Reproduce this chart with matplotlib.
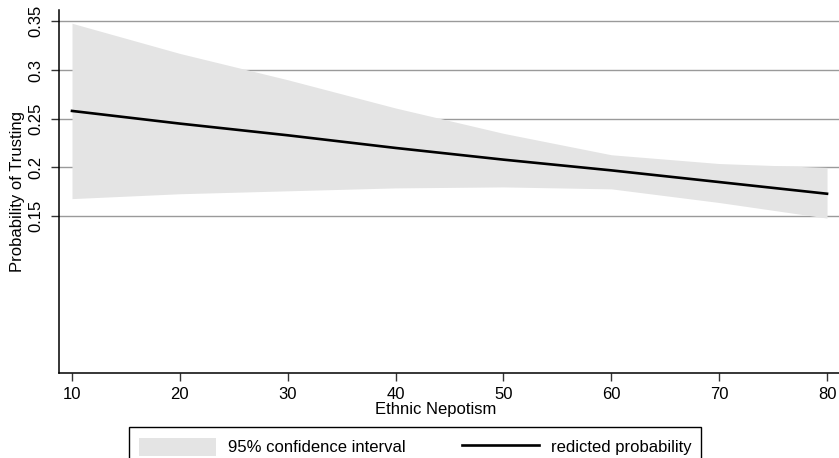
import numpy as np
import matplotlib
matplotlib.use("Agg")
import matplotlib.pyplot as plt
import matplotlib.patches as mpatches
from matplotlib.legend_handler import HandlerPatch

plt.rcParams['font.family'] = ['Liberation Sans', 'DejaVu Sans']

# values
nepotism = [10, 20, 30, 40, 50, 60, 70, 80]
predicted = [0.258, 0.245, 0.233, 0.220, 0.208, 0.197, 0.185, 0.173]
ci_upper = [0.348, 0.317, 0.290, 0.261, 0.235, 0.213, 0.204, 0.200]
ci_lower = [0.168, 0.173, 0.176, 0.179, 0.180, 0.178, 0.164, 0.148]
xticks = [10, 20, 30, 40, 50, 60, 70, 80]
yticks = [0.15, 0.2, 0.25, 0.3, 0.35]
yticklabels = ["0.15", "0.2", "0.25", "0.3", "0.35"]

fig = plt.figure(figsize=(8.39, 4.58), dpi=100)
ax = fig.add_axes([59/839, 1 - 373/458, 780/839, 363/458])

ax.fill_between(nepotism, ci_lower, ci_upper, color="#e4e4e4", lw=0, zorder=2)
line, = ax.plot(nepotism, predicted, color="black", lw=1.9,
                label="redicted probability", zorder=3)

ax.set_xlim(8.795, 81.11)
ax.set_ylim(-0.011, 0.3616)
ax.set_xticks(xticks)
ax.set_yticks(yticks)
ax.set_yticklabels(yticklabels, rotation=90, va="center")
ax.tick_params(axis="both", direction="out", length=6, width=1,
               labelsize=12, color="#333333")
ax.tick_params(axis="y", pad=5)
ax.tick_params(axis="x", pad=4)

ax.grid(axis="y", color="#9a9a9a", lw=1.0, zorder=1)
ax.set_axisbelow(True)
for s in ["top", "right"]:
    ax.spines[s].set_visible(False)
for s in ["left", "bottom"]:
    ax.spines[s].set_linewidth(1.1)

ax.set_xlabel("Ethnic Nepotism", fontsize=12)
ax.xaxis.set_label_coords(0.4827, -0.08)
ax.set_ylabel("Probability of Trusting", fontsize=12)
ax.yaxis.set_label_coords(-0.043, 0.5)


# shorter swatch than the legend row, so the box runs off the bottom edge
def short_patch(legend, orig_handle, xdescent, ydescent, width, height, fontsize):
    h = 13.0
    return mpatches.Rectangle((-xdescent, -ydescent + (height - h) / 2), width, h)


ci_patch = mpatches.Patch(facecolor="#e4e4e4", edgecolor="none",
                          label="95% confidence interval")
leg = ax.legend(handles=[ci_patch, line],
                loc="upper left", bbox_to_anchor=(129/839, 1 - 427/458),
                bbox_transform=fig.transFigure, ncol=2, fontsize=12,
                frameon=True, fancybox=False, framealpha=1, edgecolor="black",
                borderaxespad=0, borderpad=0.6, handlelength=4.6,
                handleheight=1.4, handletextpad=0.72, columnspacing=3.4,
                handler_map={mpatches.Patch: HandlerPatch(patch_func=short_patch)})
leg.get_frame().set_linewidth(1.0)

fig.savefig("out.png", dpi=100)
